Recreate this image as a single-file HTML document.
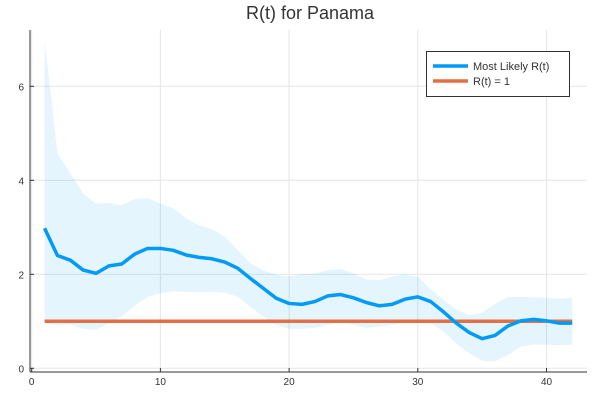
<!DOCTYPE html>
<html><head><meta charset="utf-8"><style>
html,body{margin:0;padding:0;background:#fff;}
svg{display:block;font-family:"Liberation Sans",sans-serif;}
</style></head><body>
<svg id="chart" width="600" height="400">
<text x="310" y="19" text-anchor="middle" font-size="18" fill="#333">R(t) for Panama</text>
<g id="grid"></g>
<g id="band"></g>
<g id="lines"></g>
<g id="axes"></g>
<g>
<rect x="426.5" y="51.5" width="143" height="45" fill="#fff" stroke="#333" stroke-width="1"/>
<line x1="433" y1="66" x2="468" y2="66" stroke="#009af9" stroke-width="3.5"/>
<text x="473" y="70" font-size="11" fill="#333">Most Likely R(t)</text>
<line x1="433" y1="81" x2="468" y2="81" stroke="#e26f46" stroke-width="3.5"/>
<text x="473" y="85" font-size="11" fill="#333">R(t) = 1</text>
</g>
</svg>
<script>
const days = Array.from({length:42},(_,i)=>i+1);
const rMost = [2.98,2.40,2.30,2.09,2.02,2.18,2.22,2.43,2.55,2.55,2.51,2.41,2.36,2.33,2.26,2.13,1.91,1.70,1.49,1.38,1.36,1.42,1.54,1.57,1.50,1.40,1.33,1.36,1.47,1.52,1.42,1.20,0.96,0.76,0.63,0.70,0.90,1.01,1.04,1.01,0.96,0.96];
const rUpper = [6.98,4.57,4.15,3.72,3.50,3.52,3.47,3.60,3.62,3.51,3.40,3.19,3.05,2.96,2.80,2.52,2.23,2.08,1.99,1.96,2.00,2.02,2.09,2.11,2.02,1.89,1.88,1.95,2.00,1.95,1.68,1.45,1.25,1.13,1.18,1.37,1.52,1.52,1.51,1.50,1.48,1.50];
const rLower = [0.96,0.91,0.93,0.84,0.82,0.96,1.11,1.33,1.52,1.60,1.64,1.62,1.62,1.63,1.61,1.52,1.31,1.10,0.92,0.84,0.84,0.86,0.92,0.98,0.92,0.86,0.89,0.92,0.98,0.97,0.96,0.78,0.53,0.32,0.16,0.15,0.28,0.46,0.50,0.50,0.49,0.50];
const refValue = 1;
const xTicks = [0,10,20,30,40];
const yTicks = [0,2,4,6];

const NS="http://www.w3.org/2000/svg";
const X = v => 31.7 + v*12.87;
const Y = v => 368.3 - v*47;
const L=30, R=587, T=30, B=372;
function mk(tag, attrs, parent){const e=document.createElementNS(NS,tag);for(const k in attrs)e.setAttribute(k,attrs[k]);parent.appendChild(e);return e;}
const grid=document.getElementById('grid'), axes=document.getElementById('axes');
xTicks.forEach(t=>{
  const g=mk('line',{x1:X(t),x2:X(t),y1:T,y2:B,stroke:'#e5e5e5','stroke-width':1},grid);
  
  
  const tk=mk('line',{x1:X(t),x2:X(t),y1:B,y2:B-4,stroke:'#333','stroke-width':1},axes);
  
  
  const tx=mk('text',{x:X(t),y:B+13,'text-anchor':'middle','font-size':10,fill:'#333'},axes);
  tx.textContent=t;
  
  
});
yTicks.forEach(t=>{
  const g=mk('line',{x1:L,x2:R,y1:Y(t),y2:Y(t),stroke:'#e5e5e5','stroke-width':1},grid);
  
  
  const tk=mk('line',{x1:L,x2:L+4,y1:Y(t),y2:Y(t),stroke:'#333','stroke-width':1},axes);
  
  
  const tx=mk('text',{x:L-6,y:Y(t)+4,'text-anchor':'end','font-size':10,fill:'#333'},axes);
  tx.textContent=t;
  
  
});
const ax1=mk('line',{x1:L,x2:L,y1:T,y2:B,stroke:'#333','stroke-width':1},axes);


const ax2=mk('line',{x1:L,x2:R,y1:B,y2:B,stroke:'#333','stroke-width':1},axes);



let d='M'+days.map((x,i)=>X(x)+','+Y(rUpper[i])).join('L');
for(let i=days.length-1;i>=0;i--) d+='L'+X(days[i])+','+Y(rLower[i]);
const band=mk('path',{d:d+'Z',fill:'#009af9','fill-opacity':0.1,stroke:'none'},document.getElementById('band'));



const lines=document.getElementById('lines');
const ref=mk('line',{x1:X(days[0]),x2:X(days[days.length-1]),y1:Y(refValue),y2:Y(refValue),stroke:'#e26f46','stroke-width':3.5},lines);


const ml=mk('polyline',{points:days.map((x,i)=>X(x)+','+Y(rMost[i])).join(' '),fill:'none',stroke:'#009af9','stroke-width':3.5,'stroke-linejoin':'round'},lines);


</script>
</body></html>
